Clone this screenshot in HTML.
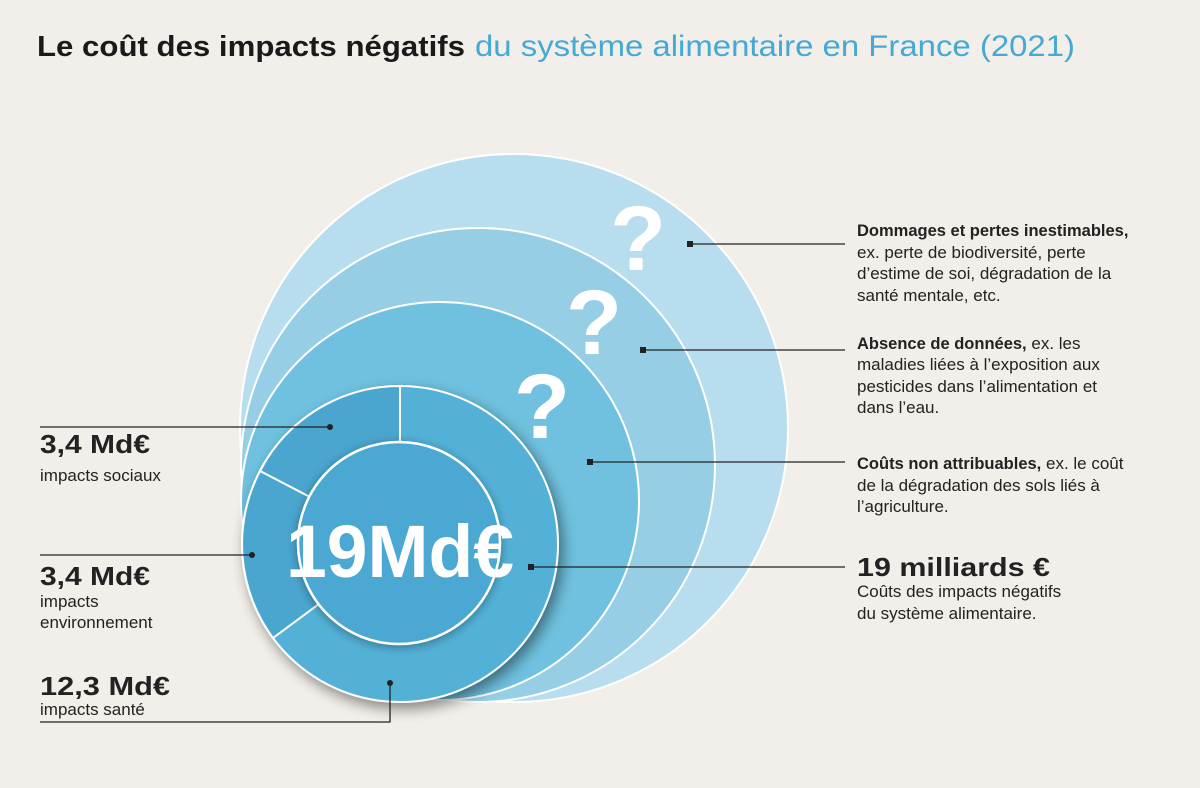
<!DOCTYPE html>
<html><head><meta charset="utf-8"><style>
html,body{margin:0;padding:0;background:#f2efea;}
svg{display:block;font-family:"Liberation Sans",sans-serif;}
</style></head><body>
<svg width="1200" height="788" viewBox="0 0 1200 788" xmlns="http://www.w3.org/2000/svg">
<defs>
<filter id="sh" x="-30%" y="-30%" width="160%" height="160%"><feGaussianBlur in="SourceAlpha" stdDeviation="7"/><feOffset dx="4" dy="6"/><feComponentTransfer><feFuncA type="linear" slope="0.45"/></feComponentTransfer><feMerge><feMergeNode/><feMergeNode in="SourceGraphic"/></feMerge></filter>
<filter id="sh2" x="-30%" y="-30%" width="160%" height="160%"><feGaussianBlur in="SourceAlpha" stdDeviation="5"/><feOffset dx="0" dy="2"/><feComponentTransfer><feFuncA type="linear" slope="0.35"/></feComponentTransfer><feMerge><feMergeNode/><feMergeNode in="SourceGraphic"/></feMerge></filter>
</defs>
<rect width="1200" height="788" fill="#f2efea"/>
<text x="37" y="56" font-size="29" font-weight="bold" fill="#1a1a1a" textLength="428" lengthAdjust="spacingAndGlyphs">Le coût des impacts négatifs</text>
<text x="475" y="56" font-size="30" fill="#45a9d4" textLength="600" lengthAdjust="spacingAndGlyphs">du système alimentaire en France (2021)</text>

<circle cx="514" cy="428" r="274" fill="#b8ddee" stroke="#fff" stroke-width="2"/>
<circle cx="478" cy="465" r="237" fill="#96cfe5" stroke="#fff" stroke-width="2"/>
<circle cx="440" cy="501" r="199" fill="#6fc1df" stroke="#fff" stroke-width="2"/>
<g font-size="92" font-weight="bold" fill="#fff" text-anchor="middle">
<text x="638" y="270">?</text><text x="594" y="354">?</text><text x="542" y="438">?</text>
</g>
<g filter="url(#sh)">
<circle cx="400" cy="544" r="158" fill="#52b1d7" stroke="#fff" stroke-width="2"/>
</g>
<path d="M400 544 L400 386 A158 158 0 0 0 260 471 Z" fill="#4aa6cf" stroke="#fff" stroke-width="2"/>
<path d="M400 544 L260 471 A158 158 0 0 0 273 638 Z" fill="#4aa6cf" stroke="#fff" stroke-width="2"/>
<circle cx="399" cy="543" r="101" fill="#4ba8d2" stroke="#fff" stroke-width="2.5" filter="url(#sh2)"/>
<text x="286" y="577" font-size="74" font-weight="bold" fill="#fff" textLength="228" lengthAdjust="spacingAndGlyphs">19Md€</text>

<g stroke="#222" stroke-width="1.3" fill="none">
<line x1="690" y1="244" x2="845" y2="244"/>
<line x1="643" y1="350" x2="845" y2="350"/>
<line x1="590" y1="462" x2="845" y2="462"/>
<line x1="531" y1="567" x2="845" y2="567"/>
<line x1="40" y1="427" x2="330" y2="427"/>
<line x1="40" y1="555" x2="252" y2="555"/>
<polyline points="390,683 390,722 40,722"/>
</g>
<g fill="#222">
<rect x="687" y="241" width="6" height="6"/><rect x="640" y="347" width="6" height="6"/><rect x="587" y="459" width="6" height="6"/><rect x="528" y="564" width="6" height="6"/>
<circle cx="330" cy="427" r="3"/><circle cx="252" cy="555" r="3"/><circle cx="390" cy="683" r="3"/>
</g>

<g font-size="17" fill="#222">
<text x="857" y="236" font-size="16.5"><tspan font-weight="bold">Dommages et pertes inestimables,</tspan></text>
<text x="857" y="258">ex. perte de biodiversité, perte</text>
<text x="857" y="279">d’estime de soi, dégradation de la</text>
<text x="857" y="301">santé mentale, etc.</text>
<text x="857" y="349"><tspan font-weight="bold" font-size="16.5">Absence de données,</tspan> ex. les</text>
<text x="857" y="370">maladies liées à l’exposition aux</text>
<text x="857" y="392">pesticides dans l’alimentation et</text>
<text x="857" y="413">dans l’eau.</text>
<text x="857" y="469"><tspan font-weight="bold" font-size="16.5">Coûts non attribuables,</tspan> ex. le coût</text>
<text x="857" y="491">de la dégradation des sols liés à</text>
<text x="857" y="512">l’agriculture.</text>
<text x="857" y="576" font-size="26" font-weight="bold" textLength="193" lengthAdjust="spacingAndGlyphs">19 milliards €</text>
<text x="857" y="597">Coûts des impacts négatifs</text>
<text x="857" y="619">du système alimentaire.</text>

<text x="40" y="453" font-size="26" font-weight="bold" textLength="110" lengthAdjust="spacingAndGlyphs">3,4 Md€</text>
<text x="40" y="481">impacts sociaux</text>
<text x="40" y="585" font-size="26" font-weight="bold" textLength="110" lengthAdjust="spacingAndGlyphs">3,4 Md€</text>
<text x="40" y="607">impacts</text>
<text x="40" y="628">environnement</text>
<text x="40" y="695" font-size="26" font-weight="bold" textLength="130" lengthAdjust="spacingAndGlyphs">12,3 Md€</text>
<text x="40" y="715">impacts santé</text>
</g>
</svg>
</body></html>
